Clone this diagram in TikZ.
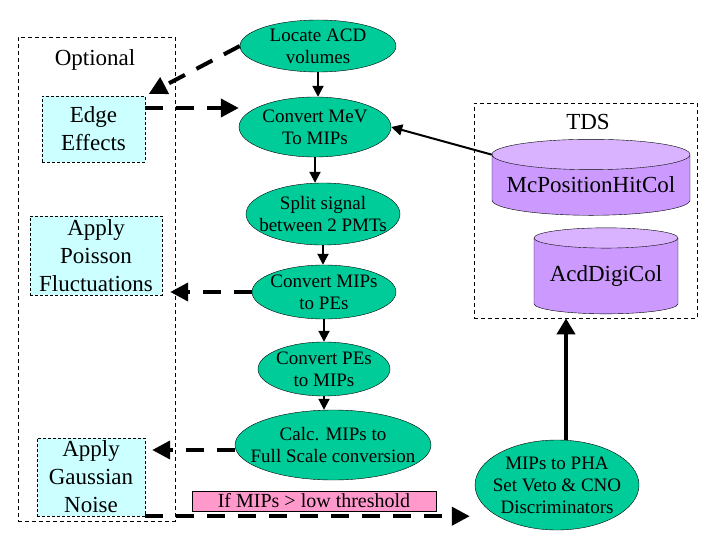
\documentclass[tikz,border=0pt]{standalone}
\usepackage{fontspec}
\setmainfont{Liberation Serif}
\usetikzlibrary{shapes}
\usetikzlibrary{shapes.geometric}
\usetikzlibrary{arrows.meta}
\definecolor{ellfill}{HTML}{00CC99}
\definecolor{optfill}{HTML}{CCFFFF}
\definecolor{cylbody}{HTML}{CC99FF}
\definecolor{cyltop}{HTML}{D9B3FF}
\definecolor{tagfill}{HTML}{FF99CC}

\begin{document}
\begin{tikzpicture}[x=1pt, y=-1pt,
	proc/.style={ellipse, draw, fill=ellfill, inner xsep=-20pt, inner ysep=-8pt, align=center, font=\fontsize{19}{22}\selectfont},
	optstep/.style={rectangle, draw, dash pattern=on 3pt off 2pt, fill=optfill, inner sep=0pt, align=center, font=\fontsize{23}{28}\selectfont},
	frame/.style={rectangle, draw, dash pattern=on 4pt off 3pt, line width=0.8pt, inner sep=0pt},
	store/.style={cylinder, shape border rotate=90, aspect=0.18, draw, cylinder uses custom fill, cylinder body fill=cylbody, cylinder end fill=cyltop, inner sep=0pt, font=\fontsize{23}{28}\selectfont},
	flow/.style={-{Triangle[length=11pt,width=11pt]}, line width=2pt},
	opflow/.style={-{Triangle[length=18pt,width=18pt]}, line width=4pt, dash pattern=on 18pt off 13pt}]
	\useasboundingbox (0,0) rectangle (720,540);
					\node[frame, minimum width=157, minimum height=484] (opt) at (96.5,279) {};
					\node[font=\fontsize{23}{28}\selectfont] (optl) at (95,60) {Optional};
					\node[optstep, minimum width=103, minimum height=66] (ed) at (93.5,129) {Edge\\Effects};
					\node[optstep, minimum width=132, minimum height=79] (po) at (96,255.5) {Apply\\Poisson\\Fluctuations};
					\node[optstep, minimum width=108, minimum height=78] (ga) at (91,477) {Apply\\Gaussian\\Noise};
					\node[proc, minimum width=156, minimum height=52] (lo) at (318,46) {Locate ACD\\volumes};
					\node[proc, minimum width=152, minimum height=60] (cm) at (315,127) {Convert MeV\\To MIPs};
					\node[proc, minimum width=154, minimum height=62] (sp) at (323,214) {Split signal\\between 2 PMTs};
					\node[proc, minimum width=144, minimum height=54] (cp) at (324,292) {Convert MIPs\\to PEs};
					\node[proc, minimum width=132, minimum height=54] (ce) at (324,369) {Convert PEs\\to MIPs};
					\node[proc, minimum width=196, minimum height=70] (cf) at (333,445) {Calc. MIPs to\\Full Scale conversion};
					\node[proc, minimum width=164, minimum height=90] (ph) at (557,485) {MIPs to PHA\\Set Veto \& CNO\\Discriminators};
					\node[frame, minimum width=223, minimum height=215] (tds) at (585.5,210.5) {};
					\node[font=\fontsize{23}{28}\selectfont] (tdsl) at (588,122) {TDS};
					\node[store, minimum width=198, minimum height=76] (mc) at (591,185) {McPositionHitCol};
					\node[store, minimum width=144, minimum height=86] (ad) at (606,276) {AcdDigiCol};
					\node[draw, fill=tagfill, inner sep=0pt, minimum width=244, minimum height=20, font=\fontsize{20}{20}\selectfont] (tag) at (314,501) {If MIPs > low threshold};
					\draw[flow] (lo.south) -- (lo.south |- cm.north);
					\draw[flow] (cm.south) -- (cm.south |- sp.north);
					\draw[flow] (sp.south) -- (sp.south |- cp.north);
					\draw[flow] (cp.south) -- (cp.south |- ce.north);
					\draw[flow] (ce.south) -- (ce.south |- cf.north);
					\draw[flow] (mc.163) -- (cm.east);
					\draw[flow, line width=4pt, -{Triangle[length=16pt,width=18pt]}] ([xshift=9pt]ph.north) -- ([xshift=9pt]ph.north |- tds.south);
					\draw[opflow, shorten >=4pt] (lo.west) -- (ed.north east);
					\draw[opflow] ([yshift=21pt]ed.east) -- ([yshift=21pt]ed.east -| cm.west);
					\draw[opflow, shorten >=8pt] (cp.west) -- (cp.west -| po.east);
					\draw[opflow, shorten >=7pt] ([yshift=-5pt]cf.west) -- ([yshift=-5pt]cf.west -| ga.east);
					\draw[opflow, shorten >=5pt] (ga.south east) -- (ga.south east -| ph.west);
				\end{tikzpicture}
\end{document}
